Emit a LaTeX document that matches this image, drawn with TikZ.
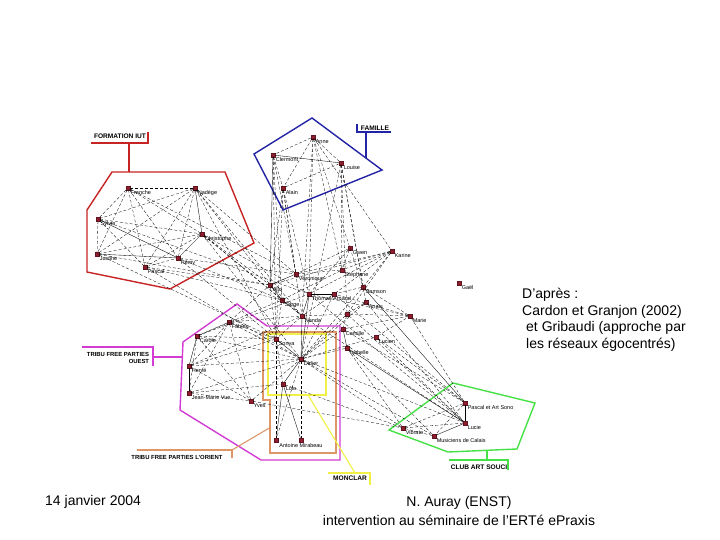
\documentclass[tikz,border=0pt]{standalone}
\usepackage{fontspec}
\setmainfont{Liberation Sans}
\definecolor{rouge}{RGB}{200,35,35}
\definecolor{bleu}{RGB}{35,35,165}
\definecolor{violet}{RGB}{210,60,210}
\definecolor{brun}{RGB}{222,150,105}
\definecolor{jaune}{RGB}{240,240,70}
\definecolor{vert}{RGB}{70,225,70}
\definecolor{pointc}{RGB}{140,30,45}
\tikzset{
  pt/.style={fill=pointc, draw=pointc!70!black, minimum size=3.6pt, inner sep=0pt},
  lbl/.style={font=\fontsize{5.5}{6}\selectfont, inner sep=0.6pt},
  nom/.style={label={[lbl,anchor=north west]south east:#1}},
  lien/.style={densely dashed, line width=0.3pt},
  lienp/.style={line width=0.35pt},
  groupe/.style={line width=1.4pt},
  trait/.style={line width=1.1pt},
  titre/.style={font=\bfseries\fontsize{6.6}{7.2}\selectfont, inner sep=0pt},
  titrep/.style={font=\bfseries\fontsize{5.9}{7.4}\selectfont, inner sep=0pt},
}
\begin{document}
\begin{tikzpicture}[x=1pt,y=-1pt]
\useasboundingbox (0,0) rectangle (720,540);

% groupes
\draw[rouge,groupe] (112,172) -- (225,172) -- (254,243) -- (170,289) -- (87,272) -- (87,210) -- cycle;
\draw[bleu,groupe] (312,118) -- (382,170) -- (283,210) -- (254,154) -- cycle;
\draw[violet,groupe] (237,304) -- (267,326) -- (340,326) -- (340,460) -- (261,460) -- (180,410) -- (183,342) -- cycle;
\draw[brun,groupe] (263,332) -- (336,332) -- (336,453) -- (270,453) -- (270,400) -- (263,400) -- cycle;
\draw[jaune,groupe] (268,334) rectangle (326,395);
\draw[vert,groupe] (453,383) -- (535,403) -- (517,449) -- (448,452) -- (389,430) -- cycle;

% formation IUT
\node[pt,nom=Franche] (f1) at (128,188) {};
\node[pt,nom=Nadège] (f2) at (195,188) {};
\node[pt,nom=Sylvie] (f3) at (98,219) {};
\node[pt,nom=Christophe] (f4) at (202,234) {};
\node[pt,nom=Justine] (f5) at (97,254) {};
\node[pt,nom=Pascal] (f6) at (145,267) {};
\node[pt,nom=Rémy] (f7) at (178,258) {};

% famille
\node[pt,nom=Anne] (m1) at (313,137) {};
\node[pt,nom=Clermont] (m2) at (273,155) {};
\node[pt,nom=Louise] (m3) at (341,163) {};
\node[pt,nom=Alain] (m4) at (283,188) {};

% centre
\node[pt,nom=Gwen] (c1) at (350,248) {};
\node[pt,nom=Karine] (c2) at (392,251) {};
\node[pt,nom=Stéphane] (c3) at (342,270) {};
\node[pt,nom=Véronique] (c4) at (296,274) {};
\node[pt,nom=Alin] (c5) at (270,285) {};
\node[pt,nom=Samson] (c6) at (363,287) {};
\node[pt,nom=Thomas Arnaud] (c7) at (309,294) {};
\node[pt] (c8) at (334,294) {};
\node[pt,nom=Serge] (c9) at (282,300) {};
\node[pt,nom=Anaïs] (c10) at (366,302) {};
\node[pt,nom=Marie] (c11) at (410,316) {};
\node[pt,nom=Nanda] (c12) at (302,316) {};
\node[pt] (c13) at (347,314) {};
\node[pt,nom=Lucien] (c14) at (376,337) {};
\node[pt,nom=Camille] (c15) at (343,329) {};
\node[pt,nom=Isabelle] (c16) at (347,348) {};
\node[pt,nom=Gaël] (c17) at (459,283) {};

% tribu ouest
\node[pt,nom=Fabien] (o1) at (229,322) {};
\node[pt,nom=Carole] (o2) at (197,336) {};
\node[pt,nom=Hervé] (o3) at (189,366) {};
\node[pt,nom=Jean-Marie Vue] (o4) at (189,393) {};
\node[pt,nom=Yves] (o5) at (251,401) {};

% monclar, l'orient
\node[pt,nom=Sonya] (y1) at (276,339) {};
\node[pt,nom=Didier] (y2) at (301,359) {};
\node[pt,nom=Lolo] (y3) at (283,384) {};
\node[pt] (y4) at (276,440) {};
\node[pt,label={[lbl,yshift=-1pt]below:Antoine Mirabeau}] (y5) at (301,440) {};

% club art souci
\node[pt,nom=Pascal et Art Sono] (g1) at (465,403) {};
\node[pt,nom=Lucie] (g2) at (465,423) {};
\node[pt,nom=Vibrato] (g3) at (403,428) {};
\node[pt,nom=Musiciens de Calais] (g4) at (434,436) {};

% liens
\foreach \a/\b in {f1/f2,f1/f3,f1/f4,f1/f5,f1/f6,f1/f7,f2/f3,f2/f5,f2/f6,f2/f7,f3/f4,f3/f5,f3/f6,
  f4/f5,f4/f6,f6/f7,f2/c4,f2/c9,f2/y1,f4/c5,f4/c7,f4/y2,f6/c5,f6/c9,f7/c9,f7/y1,f5/c5,f3/c7,
  f1/c4,f2/c12,f4/c12,f6/y2,f5/y1,m1/m2,m1/m3,m1/m4,m2/m4,m3/m4,m2/c9,m4/c4,m4/c7,m3/c6,m3/c10,
  m3/c13,m1/c3,m1/c7,m1/c12,m4/y1,m3/y2,m1/c2,m2/y1,c2/c3,c2/c4,c2/c5,c2/c6,c2/c7,c2/c8,c2/c13,
  c1/c3,c1/c7,c1/c4,c3/c4,c3/c9,c11/c13,c11/c15,c11/c8,c11/c6,c11/c7,c14/c11,c5/c9,c8/c12,
  c12/c13,c9/c12,c5/c12,c6/c8,c10/c13,c13/c15,c12/y1,c8/y2,c13/y2,c9/y1,c5/y1,c6/y2,c10/y2,
  c15/y2,c16/y2,c14/y2,o1/o2,o1/o3,o1/o4,o1/o5,o2/o4,o2/o5,o3/o5,o4/o5,o1/y1,o1/y2,o2/y1,
  o2/y2,o3/y1,o3/y2,o4/y2,o4/y3,o5/y2,o1/c5,o2/c9,o3/c12,o2/c7,o1/c12,y1/y3,y2/y4,y1/y4,y2/y5,
  g1/g3,g1/g4,g2/g3,g3/g4,c11/g1,c14/g1,c14/g2,c16/g3,c13/g2,y2/g3,y2/g4,y3/g3,c15/g1,c12/g2,
  c16/g4,c8/g1,c10/g2,o5/g3,y2/g2,c7/g2,m4/c5,m2/c4,m4/c12,m3/c3,m1/c6,f7/c4,f4/c9}
  \draw[lien] (\a) -- (\b);
\foreach \a/\b in {f2/f4,f3/f7,f4/f7,f5/f7,m2/m3,m2/c5,c4/c5,c7/c8,c7/c12,c7/y2,c12/y2,c15/c16,
  o2/o3,o3/o4,y1/y2,y2/y3,y3/y4,y3/y5,g1/g2,g2/g4,c16/g2,c6/g1}
  \draw[lienp] (\a) -- (\b);

% titres des groupes
\node[titre] (tiut) at (120,136) {FORMATION IUT};
\draw[rouge,trait] (91,143) -- (148,143) -- (148,132);
\coordinate (piut) at (129,172);
\draw[rouge,trait] (piut |- 0,143) -- (piut);

\node[titre] (tfam) at (375,128) {FAMILLE};
\draw[bleu,trait] (357,124) -- (357,132) -- (391,132);
\coordinate (pfam) at (366,158);
\draw[bleu,trait] (pfam |- 0,132) -- (pfam);

\node[titrep,align=right] (touest) at (118,358) {TRIBU FREE PARTIES\\OUEST};
\draw[violet,trait] (82,347) -- (153,347) -- (153,366);
\coordinate (pouest) at (183,357);
\draw[violet,trait] (pouest -| 153,0) -- (pouest);

\node[titrep] (torient) at (177,457) {TRIBU FREE PARTIES L'ORIENT};
\draw[brun,trait] (137,450) -- (232,450) -- (232,458);
\coordinate (porient) at (271,427);
\draw[brun,trait] (232,450) -- (porient);

\node[titre] (tmon) at (350,478) {MONCLAR};
\draw[jaune,trait] (328,473) -- (370,473) -- (370,485);
\coordinate (pmon) at (308,395);
\draw[jaune,trait] (355,473) -- (pmon);

\node[titre] (tclub) at (479,467) {CLUB ART SOUCI};
\draw[vert,trait] (449,460) -- (508,460) -- (508,470);
\coordinate (pclub) at (487,450);
\draw[vert,trait] (pclub |- 0,460) -- (pclub);

% textes
\node[anchor=north west, align=left, inner sep=0pt, font=\fontsize{14}{16.5}\selectfont] (source) at (522,288)
  {D'après :\\Cardon et Granjon (2002)\\\hspace*{4pt}et Gribaudi (approche par\\\hspace*{4pt}les réseaux égocentrés)};
\node[anchor=west, inner sep=0pt, font=\fontsize{14}{19}\selectfont] (date) at (45,502) {14 janvier 2004};
\node[align=center, inner sep=0pt, font=\fontsize{14}{19}\selectfont] (auteur) at (459,511)
  {N. Auray (ENST)\\intervention au séminaire de l'ERTé ePraxis};
\end{tikzpicture}
\end{document}
